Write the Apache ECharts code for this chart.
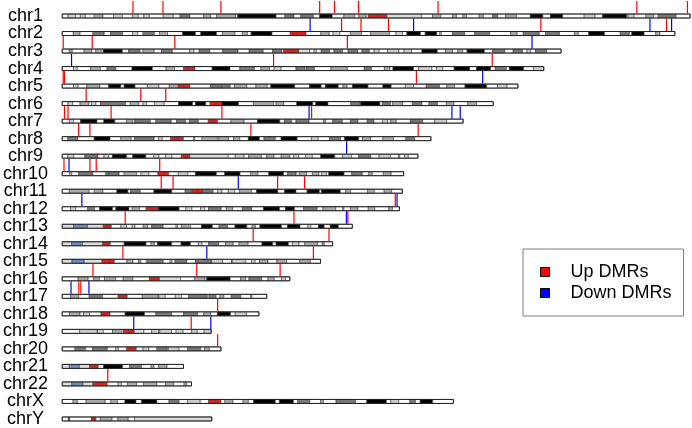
<!DOCTYPE html>
<html><head><meta charset="utf-8">
<script src="https://cdn.jsdelivr.net/npm/echarts@6/dist/echarts.min.js"></script>
<style>html,body{margin:0;padding:0;background:#fff}#c{width:692px;height:428px}</style>
</head><body><div id="c"></div>
<script>
const FONT = "'Liberation Sans', Arial, sans-serif";
const chromosomes = ['chr1','chr2','chr3','chr4','chr5','chr6','chr7','chr8','chr9','chr10','chr11','chr12','chr13','chr14','chr15','chr16','chr17','chr18','chr19','chr20','chr21','chr22','chrX','chrY'];
// stain codes: 0 gneg,1 gpos25,2 gpos50,3 gpos75,4 gpos100,5 acen,6 gvar,7 stalk
const stainColors = ['#ffffff','#cccccc','#a8a8a8','#787878','#000000','#e0201c','#dcdcdc','#6a8bbf'];
// cytobands as [end (Mb), stain] pairs
const cb1 = [2.3,0,5.4,1,7.2,0,9.2,1,12.7,0,16.2,2,20.4,0,23.9,1,28.0,0,30.2,1,32.4,0,34.6,1,40.1,0,44.1,1,46.8,0,50.7,3,56.1,0,59.0,2,61.3,0,68.9,2,69.7,0,84.9,4,88.4,0,92.0,3,94.7,0,99.7,3,102.2,0,107.2,4,111.8,0,116.1,2,117.8,0,120.7,2,121.5,0,125.0,5,128.9,5,142.6,6,147.0,0,150.3,2,155.0,0,156.5,2,159.1,0,160.5,2,165.5,0,167.2,2,170.9,0,172.9,3,176.0,0,180.3,2,185.8,0,190.8,4,193.8,0,198.7,4,207.2,0,211.5,1,214.5,0,224.1,4,224.6,0,227.0,1,231.7,0,234.7,2,236.6,0,243.7,3,249.25,0];
const cb2 = [4.4,0,7.1,2,12.2,0,16.7,3,19.2,0,24.0,3,27.9,0,30.0,1,32.1,0,36.6,3,38.6,0,41.8,2,47.8,0,52.9,4,55.0,0,61.3,4,63.6,0,68.6,2,71.5,0,73.5,2,75.0,0,83.3,4,90.5,0,93.3,5,96.8,5,102.7,0,106.0,2,107.5,0,110.2,1,114.4,0,118.8,2,122.4,0,129.9,2,132.5,0,135.1,1,136.8,0,142.2,4,144.1,0,148.7,4,149.9,0,150.5,1,154.9,0,159.8,3,163.7,0,169.7,3,178.0,0,180.6,2,183.0,0,189.4,3,191.9,0,197.4,3,203.3,0,204.9,2,209.0,0,215.3,4,221.5,0,225.2,3,226.1,0,231.0,4,235.6,0,237.3,2,243.2,0];
const cb3 = [2.8,0,4.0,2,8.7,0,11.8,2,13.3,0,16.4,2,23.9,4,26.4,0,30.9,3,32.1,0,36.5,2,39.4,0,43.7,3,50.6,0,52.3,1,54.4,0,58.6,3,63.7,0,69.8,3,74.2,0,79.8,3,83.5,0,87.2,3,87.9,0,91.0,5,93.9,5,98.3,6,100.0,0,100.9,1,102.8,0,106.2,3,107.9,0,111.3,3,113.5,0,117.3,3,119.0,0,121.9,3,123.8,0,125.8,1,129.2,0,133.7,1,135.7,0,138.7,1,142.8,0,148.9,4,152.1,0,155.0,2,157.0,0,159.0,2,160.7,0,167.6,4,170.9,0,175.7,3,179.0,0,182.7,3,184.5,0,186.0,1,187.9,0,192.3,3,198.02,0];
const cb4 = [4.5,0,6.0,1,11.3,0,15.2,2,17.8,0,21.3,3,27.7,0,35.8,4,41.2,0,44.6,2,48.2,0,50.4,5,52.7,5,59.5,0,66.6,4,70.5,0,76.3,3,78.9,0,82.4,2,84.1,0,86.9,1,92.8,0,96.5,3,97.0,0,100.1,3,106.7,0,113.2,2,119.9,0,122.8,3,127.9,0,130.1,2,131.3,0,139.5,4,141.5,0,146.8,1,148.5,0,151.1,1,155.6,0,161.8,4,164.5,0,170.1,4,171.9,0,176.3,3,177.5,0,183.2,4,187.1,0,191.15,1];
const cb5 = [4.5,0,6.3,1,9.8,0,15.0,2,18.4,0,23.3,4,24.6,0,28.9,4,33.8,0,38.4,1,42.5,0,46.1,2,48.4,5,50.7,5,58.9,0,62.9,3,63.2,0,66.7,3,68.4,0,73.3,2,76.9,0,81.4,2,82.8,0,92.3,4,98.2,0,102.8,4,104.5,0,109.6,4,111.5,0,113.1,2,115.2,0,121.4,4,127.3,0,130.6,4,136.2,0,139.5,1,144.5,0,149.8,3,152.7,0,155.7,2,159.9,0,168.5,4,172.8,0,176.6,1,180.9,0];
const cb6 = [2.3,0,4.2,1,7.1,0,10.6,2,11.6,0,13.4,1,15.2,0,25.2,3,27.0,0,30.4,2,32.1,0,33.5,1,36.6,0,40.5,1,46.2,0,51.8,4,52.9,0,57.0,4,58.7,0,61.0,5,63.3,5,63.4,0,70.0,4,75.9,0,83.9,2,84.9,0,88.0,2,93.1,0,99.5,4,100.6,0,105.5,4,114.6,0,118.3,3,118.5,0,126.1,4,127.1,0,130.3,3,131.2,0,135.2,2,139.0,0,142.8,3,145.6,0,149.0,3,152.5,0,155.5,2,161.0,0,164.5,2,171.1,0];
const cb7 = [2.8,0,4.5,1,7.3,0,13.8,4,16.5,0,20.9,4,25.5,0,28.0,2,28.8,0,35.0,3,37.2,0,43.3,3,45.4,0,49.0,3,50.5,0,54.0,3,58.0,0,59.9,5,61.7,5,67.0,0,72.2,2,77.5,0,86.4,4,88.2,0,91.1,3,92.8,0,98.0,3,103.8,0,104.5,2,107.4,0,111.2,3,114.4,0,117.4,3,121.1,0,123.8,3,127.1,0,129.2,1,130.4,0,132.6,2,138.2,0,143.1,3,147.9,0,152.6,1,159.14,0];
const cb8 = [2.2,0,6.2,3,12.7,0,19.0,4,23.3,0,27.4,2,28.8,0,36.5,3,38.3,0,39.7,1,43.1,0,45.6,5,48.1,5,52.2,0,52.6,3,55.5,0,61.6,2,62.2,0,66.0,2,68.0,0,70.5,2,73.9,0,78.3,4,80.1,0,84.6,3,86.9,0,93.3,4,99.0,0,101.6,1,106.2,0,110.5,3,112.1,0,117.7,4,119.2,0,122.5,2,127.3,0,131.5,2,136.4,0,139.9,3,146.36,0];
const cb9 = [2.2,0,4.6,1,9.0,0,14.2,3,16.6,0,18.5,1,19.9,0,25.6,4,28.0,0,33.2,4,36.3,0,38.4,1,41.0,0,43.6,6,47.3,0,49.0,5,50.7,5,65.9,6,68.7,0,72.2,1,74.0,0,79.2,2,81.1,0,84.1,2,86.9,0,90.4,2,91.8,0,93.9,1,96.6,0,99.3,1,102.6,0,108.2,4,111.3,0,114.9,1,117.7,0,122.5,3,125.8,0,130.3,1,133.5,0,134.0,1,135.9,0,137.4,1,141.21,0];
const cb10 = [3.0,0,3.8,1,6.6,0,12.2,3,17.3,0,18.6,3,18.7,0,22.6,3,24.6,0,29.6,2,31.3,0,34.4,1,38.0,0,40.2,5,42.3,5,46.1,0,49.9,1,52.9,0,61.2,4,64.5,0,70.6,4,74.9,0,77.7,2,82.0,0,87.9,4,89.5,0,92.9,3,94.1,0,97.0,2,99.3,0,101.9,2,103.0,0,104.9,1,105.8,0,111.9,4,114.9,0,119.1,3,121.7,0,123.1,2,127.5,0,130.6,2,135.53,0];
const cb11 = [2.8,0,10.7,2,12.7,0,16.2,2,21.7,0,26.1,4,27.2,0,31.0,3,36.4,0,43.5,4,48.8,0,51.6,3,53.7,5,55.7,5,59.9,3,61.7,0,63.4,1,65.9,0,68.4,1,70.4,0,75.2,2,77.1,0,85.6,4,88.3,0,92.8,4,97.2,0,102.1,4,102.9,0,110.4,4,112.5,0,114.5,2,121.2,0,123.9,2,127.8,0,130.8,2,135.01,0];
const cb12 = [3.3,0,5.4,1,10.1,0,12.8,3,14.8,0,20.0,4,21.3,0,26.5,4,27.8,0,30.7,2,33.3,0,35.8,5,38.2,5,46.4,4,49.1,0,51.5,1,54.9,0,56.6,1,58.1,0,63.1,3,65.1,0,67.7,2,71.5,0,75.3,3,79.9,0,86.3,4,88.6,0,92.2,4,95.8,0,101.2,3,103.5,0,108.6,2,111.3,0,111.8,1,114.4,0,117.4,2,121.5,0,124.1,2,129.6,0,131.1,2,133.85,0];
const cb13 = [4.5,6,10.0,7,16.3,6,17.9,5,19.5,5,23.3,0,25.5,1,27.8,0,28.9,1,32.2,0,34.0,2,35.5,0,40.1,3,45.2,0,45.8,1,47.3,0,50.9,2,55.3,0,59.6,4,62.3,0,65.7,3,68.6,0,73.3,4,75.4,0,76.7,2,78.5,0,87.1,4,89.4,0,94.4,4,97.5,0,98.7,1,101.7,0,104.0,4,106.4,0,109.6,4,115.17,0];
const cb14 = [3.7,6,8.1,7,16.0,6,17.6,5,19.1,5,24.6,0,33.3,4,35.3,0,36.6,2,37.8,0,43.5,4,47.2,0,50.9,4,54.1,0,55.5,1,58.1,0,62.1,3,64.8,0,67.9,2,70.2,0,73.8,2,79.3,0,83.6,4,84.9,0,89.8,4,91.4,0,94.0,1,96.3,0,101.4,2,103.2,0,104.0,2,107.35,0];
const cb15 = [3.9,6,8.7,7,15.8,6,19.0,5,20.7,5,25.7,0,28.1,2,30.3,0,31.2,2,33.6,0,40.1,3,42.8,0,43.6,1,44.8,0,49.5,3,52.9,0,59.1,3,59.3,0,63.7,1,67.2,0,67.3,1,67.5,0,72.7,1,75.2,0,76.6,1,78.3,0,81.7,2,85.2,0,89.1,2,94.3,0,98.5,2,102.53,0];
const cb16 = [6.3,0,10.3,2,12.5,0,14.8,2,16.8,0,21.2,2,24.2,0,28.1,2,34.6,0,36.6,5,38.6,5,47.0,6,52.6,0,56.7,2,57.4,0,66.7,4,70.8,0,72.9,2,74.1,0,79.2,3,81.7,0,84.2,2,87.1,0,88.7,1,90.35,0];
const cb17 = [3.3,0,6.5,2,10.7,0,16.0,3,22.2,0,24.0,5,25.8,5,31.8,0,38.1,2,38.4,0,40.9,1,44.9,0,47.4,1,50.2,0,57.6,3,58.3,0,61.1,3,62.6,0,64.2,2,67.1,0,70.9,3,74.8,0,75.3,1,81.2,0];
const cb18 = [2.9,0,7.1,2,8.5,0,10.9,1,15.4,0,17.2,5,19.0,5,25.0,0,32.7,4,37.2,0,43.5,3,48.2,0,53.8,3,56.2,0,59.0,2,61.6,0,66.8,4,68.7,0,73.1,1,78.08,0];
const cb19 = [6.9,0,13.9,1,14.0,0,16.3,1,20.0,0,24.4,2,26.5,5,28.6,5,32.4,6,35.5,0,38.3,1,38.7,0,43.4,1,45.2,0,48.0,1,51.4,0,53.6,1,56.3,0,59.13,1];
const cb20 = [5.1,0,9.2,3,12.1,0,17.9,3,21.3,0,22.3,1,25.6,0,27.5,5,29.4,5,32.1,0,34.4,1,37.6,0,41.7,3,42.1,0,46.4,1,49.8,0,55.0,3,56.5,0,58.4,2,63.03,0];
const cb21 = [2.8,6,6.8,7,10.9,6,13.2,5,14.3,5,16.4,0,24.0,4,26.8,0,31.5,3,35.3,0,36.4,2,38.3,0,41.6,2,48.13,0];
const cb22 = [3.8,6,8.3,7,12.2,6,14.7,5,17.9,5,22.2,0,23.5,1,25.9,0,29.6,2,32.2,0,37.6,2,41.0,0,44.2,2,48.4,0,49.4,2,51.3,0];
const cbX = [4.3,0,6.0,2,9.5,0,17.1,2,19.3,0,21.9,2,24.9,0,29.3,4,31.5,0,37.6,4,42.4,0,46.4,3,49.8,0,54.8,1,58.1,0,60.6,5,63.0,5,64.6,0,67.8,2,71.8,0,73.9,2,76.0,0,84.6,4,86.2,0,91.8,4,93.5,0,98.3,3,102.6,0,103.7,2,108.7,0,116.5,3,120.9,0,128.7,4,130.4,0,133.6,1,138.0,0,140.3,3,142.1,0,147.1,4,155.27,0];
const cbY = [2.5,0,3.0,4,11.6,0,12.5,5,13.4,5,15.1,0,19.8,2,22.1,0,26.2,2,28.8,0,59.37,6];
const cytobandList = [cb1,cb2,cb3,cb4,cb5,cb6,cb7,cb8,cb9,cb10,cb11,cb12,cb13,cb14,cb15,cb16,cb17,cb18,cb19,cb20,cb21,cb22,cbX,cbY];

// DMR marks: [chromosome, position (Mb)]
const upDMRs = [
 ['chr1',28.1],['chr1',40.0],['chr1',63.0],['chr1',102.2],['chr1',108.1],['chr1',117.6],['chr1',149.2],['chr1',228.1],['chr1',248.2],
 ['chr2',110.9],['chr2',118.6],['chr2',129.5],['chr2',190.0],['chr2',239.9],
 ['chr3',0.4],['chr3',11.9],['chr3',44.7],['chr3',113.2],
 ['chr4',83.9],['chr4',170.7],
 ['chr5',0.4],['chr5',0.9],['chr5',140.6],
 ['chr6',9.5],['chr6',31.2],['chr6',41.1],
 ['chr7',0.9],['chr7',2.3],['chr7',19.4],['chr7',63.4],['chr7',99.0],
 ['chr8',6.5],['chr8',11.0],['chr8',74.9],['chr8',141.3],
 ['chr10',0.7],['chr10',11.0],['chr10',13.5],['chr10',38.7],
 ['chr11',39.3],['chr11',44.0],['chr11',85.5],['chr11',96.2],
 ['chr12',132.2],
 ['chr13',25.0],['chr13',92.0],['chr13',113.4],
 ['chr14',75.8],['chr14',105.9],
 ['chr15',24.1],['chr15',99.7],
 ['chr16',12.2],['chr16',53.4],['chr16',86.5],
 ['chr17',6.6],['chr17',7.4],
 ['chr18',61.7],
 ['chr19',51.2],
 ['chr20',61.7],
 ['chr22',18.1]
];
const downDMRs = [
 ['chr2',98.4],['chr2',139.5],['chr2',233.3],['chr2',241.9],
 ['chr3',186.5],
 ['chr4',3.7],
 ['chr5',166.9],
 ['chr7',98.0],['chr7',154.7],['chr7',158.0],
 ['chr9',112.9],
 ['chr10',2.7],
 ['chr11',69.9],
 ['chr12',7.8],['chr12',132.9],
 ['chr13',112.8],
 ['chr15',57.4],
 ['chr17',3.5],['chr17',10.6],
 ['chr19',28.4],['chr19',59.0]
];

const bandData = [];
const outlineData = [];
cytobandList.forEach((arr, i) => {
  let s = 0;
  for (let k = 0; k < arr.length; k += 2) {
    bandData.push([s, i, arr[k], arr[k + 1]]);
    s = arr[k];
  }
  outlineData.push([0, i, s]);
});
const toMark = d => [d[1], chromosomes.indexOf(d[0])];

function bandRender(params, api) {
  const y = api.value(1);
  const a = api.coord([api.value(0), y]);
  const b = api.coord([api.value(2), y]);
  return { type: 'rect', shape: { x: a[0], y: a[1] - 2, width: b[0] - a[0], height: 4 },
    style: { fill: stainColors[api.value(3)], stroke: '#444', lineWidth: 0.6 } };
}
function outlineRender(params, api) {
  const y = api.value(1);
  const a = api.coord([api.value(0), y]);
  const b = api.coord([api.value(2), y]);
  return { type: 'rect', shape: { x: a[0], y: a[1] - 2, width: b[0] - a[0], height: 4 },
    style: { fill: null, stroke: '#222', lineWidth: 1 } };
}
function markRender(color) {
  return function (params, api) {
    const p = api.coord([api.value(0), api.value(1)]);
    return { type: 'line', shape: { x1: p[0], y1: p[1] - 2.5, x2: p[0], y2: p[1] - 15 },
      style: { stroke: color, lineWidth: 1.2 } };
  };
}

const chart = echarts.init(document.getElementById('c'), null, { renderer: 'canvas' });
chart.setOption({
  animation: false,
  backgroundColor: '#fff',
  grid: { left: 60.7, right: 0, top: 7.24, bottom: 0.26 },
  xAxis: { type: 'value', min: 0, max: 250, show: false },
  yAxis: { type: 'category', data: chromosomes, inverse: true,
    axisLine: { show: false }, axisTick: { show: false }, splitLine: { show: false },
    axisLabel: { interval: 0, align: 'center', margin: 36.7, fontSize: 18, color: '#000', fontFamily: FONT } },
  legend: { orient: 'vertical', left: 523, top: 249, icon: 'rect', itemWidth: 9, itemHeight: 9, itemGap: 3,
    padding: [14, 12, 14, 17], borderColor: '#808080', borderWidth: 1,
    itemStyle: { borderColor: '#000', borderWidth: 1 },
    textStyle: { fontSize: 18, color: '#000', fontFamily: FONT, padding: [0, 0, 0, 16] },
    data: ['Up DMRs', 'Down DMRs'] },
  series: [
    { type: 'custom', name: 'bands', renderItem: bandRender, data: bandData, encode: { x: [0, 2], y: 1 }, silent: true },
    { type: 'custom', name: 'outline', renderItem: outlineRender, data: outlineData, encode: { x: [0, 2], y: 1 }, silent: true },
    { type: 'custom', name: 'Up DMRs', itemStyle: { color: '#ff0000' }, renderItem: markRender('#ff0000'), data: upDMRs.map(toMark), encode: { x: 0, y: 1 } },
    { type: 'custom', name: 'Down DMRs', itemStyle: { color: '#0000ff' }, renderItem: markRender('#0000ff'), data: downDMRs.map(toMark), encode: { x: 0, y: 1 } }
  ]
});
</script></body></html>
